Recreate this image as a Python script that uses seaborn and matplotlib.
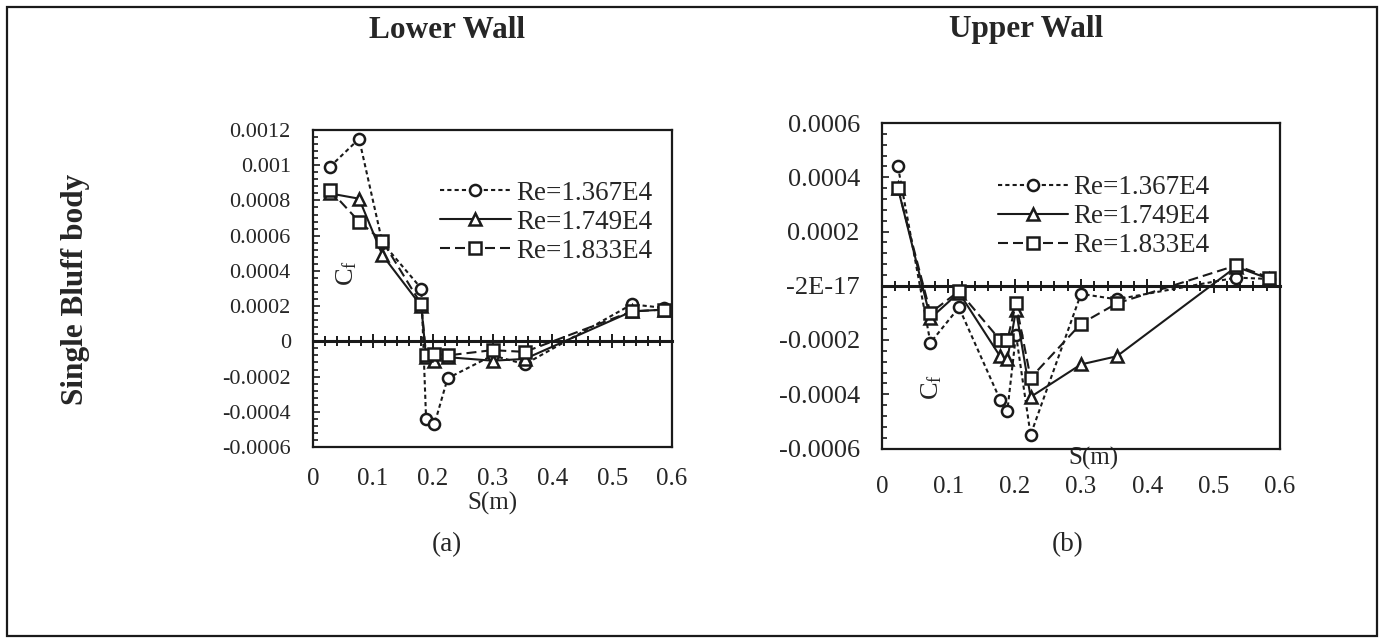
import pandas as pd
import seaborn as sns
import matplotlib.pyplot as plt
from matplotlib.ticker import MultipleLocator
from matplotlib.patches import Rectangle

# ---- data ----
series_labels = ["Re=1.367E4", "Re=1.749E4", "Re=1.833E4"]

s_lower = [0.028, 0.077, 0.116, 0.181, 0.189, 0.203, 0.225, 0.300, 0.354, 0.533, 0.586]
lower_1367 = [0.00099, 0.00115, 0.00056, 0.00030, -0.00044, -0.00047, -0.00021, -0.00008, -0.00013, 0.00021, 0.00019]
lower_1749 = [0.00084, 0.00081, 0.00049, 0.00020, -0.00009, -0.00011, -0.00009, -0.00011, -0.00010, 0.00017, 0.00018]
lower_1833 = [0.00086, 0.00068, 0.00057, 0.00021, -0.00008, -0.00007, -0.00008, -0.00005, -0.00006, 0.00017, 0.00018]

s_upper = [0.024, 0.073, 0.116, 0.178, 0.189, 0.202, 0.224, 0.300, 0.354, 0.534, 0.584]
upper_1367 = [0.00044, -0.00021, -0.00008, -0.00042, -0.00046, -0.00018, -0.00055, -0.00003, -0.00005, 0.00003, 0.000025]
upper_1749 = [0.00036, -0.00012, -0.000025, -0.00026, -0.00027, -0.00009, -0.00041, -0.00029, -0.00026, 0.00007, 0.000025]
upper_1833 = [0.00036, -0.00010, -0.00002, -0.00020, -0.00020, -0.000065, -0.00034, -0.00014, -0.000065, 0.000075, 0.00003]

x_ticks = [0, 0.1, 0.2, 0.3, 0.4, 0.5, 0.6]
x_tick_labels = ["0", "0.1", "0.2", "0.3", "0.4", "0.5", "0.6"]
lower_yticks = [0.0012, 0.001, 0.0008, 0.0006, 0.0004, 0.0002, 0, -0.0002, -0.0004, -0.0006]
lower_ytick_labels = ["0.0012", "0.001", "0.0008", "0.0006", "0.0004", "0.0002", "0",
                      "-0.0002", "-0.0004", "-0.0006"]
upper_yticks = [0.0006, 0.0004, 0.0002, 0, -0.0002, -0.0004, -0.0006]
upper_ytick_labels = ["0.0006", "0.0004", "0.0002", "-2E-17", "-0.0002", "-0.0004", "-0.0006"]


def long_df(s, cols):
    frames = []
    for lab, vals in zip(series_labels, cols):
        frames.append(pd.DataFrame({"S": s, "Cf": vals, "Re": lab}))
    return pd.concat(frames, ignore_index=True)


df_lower = long_df(s_lower, [lower_1367, lower_1749, lower_1833])
df_upper = long_df(s_upper, [upper_1367, upper_1749, upper_1833])

sns.set_theme(style="white")
plt.rcParams["font.family"] = ["Liberation Serif", "DejaVu Serif"]
plt.rcParams["mathtext.fontset"] = "custom"
plt.rcParams["mathtext.rm"] = "Liberation Serif"

markers = dict(zip(series_labels, ["o", "^", "s"]))
dashes = dict(zip(series_labels, [(2.0, 1.5), "", (4.8, 2.4)]))

W, H = 1383, 642
fig = plt.figure(figsize=(W / 100, H / 100), dpi=100)


def px_axes(x0, y0, x1, y1):
    # pixel box (top-left origin) -> figure fraction axes
    return fig.add_axes([x0 / W, 1 - y1 / H, (x1 - x0) / W, (y1 - y0) / H])


def draw_panel(ax, df, ylim, yticks, ylabels, ysize, xpad, leg_anchor, cf_pos, sm_pos):
    sns.lineplot(data=df, x="S", y="Cf", style="Re", markers=markers, dashes=dashes,
                 color="k", lw=1.5, markersize=8, markerfacecolor="white",
                 markeredgecolor="k", markeredgewidth=1.8, legend=False,
                 errorbar=None, sort=False, ax=ax)
    ax.set_xlim(0, 0.6)
    ax.set_ylim(*ylim)
    ax.set_xticks(x_ticks, x_tick_labels)
    ax.set_yticks(yticks, ylabels)
    ax.yaxis.set_minor_locator(MultipleLocator(0.00004))
    ax.tick_params(axis="x", which="both", length=0, labelsize=18, pad=xpad)
    ax.tick_params(axis="y", which="major", direction="in", left=True, length=5,
                   width=1.2, color="k", labelsize=ysize, pad=16)
    ax.tick_params(axis="y", which="minor", direction="in", left=True, length=3.5,
                   width=1.2, color="k")
    for sp in ax.spines.values():
        sp.set_color("k")
        sp.set_linewidth(1.6)

    # horizontal axis crossing at zero with cross ticks
    frac = -ylim[0] / (ylim[1] - ylim[0])
    sec = ax.secondary_xaxis(frac)
    sec.set_xticks(x_ticks)
    sec.xaxis.set_minor_locator(MultipleLocator(0.02))
    sec.tick_params(which="major", direction="inout", length=10, width=1.4, color="k",
                    labelbottom=False, labeltop=False)
    sec.tick_params(which="minor", direction="inout", length=7, width=1.4, color="k")
    for sp in sec.spines.values():
        sp.set_color("k")
        sp.set_linewidth(2.2)

    ax.set_xlabel("S(m)", fontsize=18)
    ax.xaxis.set_label_coords(*sm_pos)
    ax.xaxis.label.set_va("center")
    ax.set_ylabel(r"$\mathrm{C_f}$", fontsize=19)
    ax.yaxis.set_label_coords(*cf_pos)
    ax.yaxis.label.set_va("center")

    ax.legend(ax.lines[:3], series_labels, frameon=False, loc="upper left",
              bbox_to_anchor=leg_anchor, borderaxespad=0, borderpad=0,
              fontsize=19.5, handlelength=2.6, handletextpad=0.2,
              labelspacing=0.15, numpoints=1)


ax1 = px_axes(313, 130, 672, 447)
draw_panel(ax1, df_lower, (-0.0006, 0.0012), lower_yticks, lower_ytick_labels, 16, 15,
           leg_anchor=(0.354, 0.84), cf_pos=(0.095, 0.55), sm_pos=(0.5, -0.177))

ax2 = px_axes(882, 123, 1280, 448.5)
draw_panel(ax2, df_upper, (-0.0006, 0.0006), upper_yticks, upper_ytick_labels, 19, 20,
           leg_anchor=(0.291, 0.84), cf_pos=(0.126, 0.19), sm_pos=(0.53, -0.03))

# titles and captions
fig.text(447 / W, 1 - 30 / H, "Lower Wall", ha="center", va="center",
         fontsize=22.5, fontweight="bold")
fig.text(1026 / W, 1 - 30 / H, "Upper Wall", ha="center", va="center",
         fontsize=22.5, fontweight="bold")
fig.text(75 / W, 1 - 289 / H, "Single Bluff body", ha="center", va="center",
         rotation=90, fontsize=22.5, fontweight="bold")
fig.text(447 / W, 1 - 545 / H, "(a)", ha="center", va="center", fontsize=19.5)
fig.text(1068 / W, 1 - 545 / H, "(b)", ha="center", va="center", fontsize=19.5)

# table-cell border
fig.add_artist(Rectangle((7 / W, 1 - 636 / H), (1377 - 7) / W, (636 - 7) / H,
                         transform=fig.transFigure, fill=False, ec="k", lw=1.6))

fig.savefig("out.png", dpi=100)
